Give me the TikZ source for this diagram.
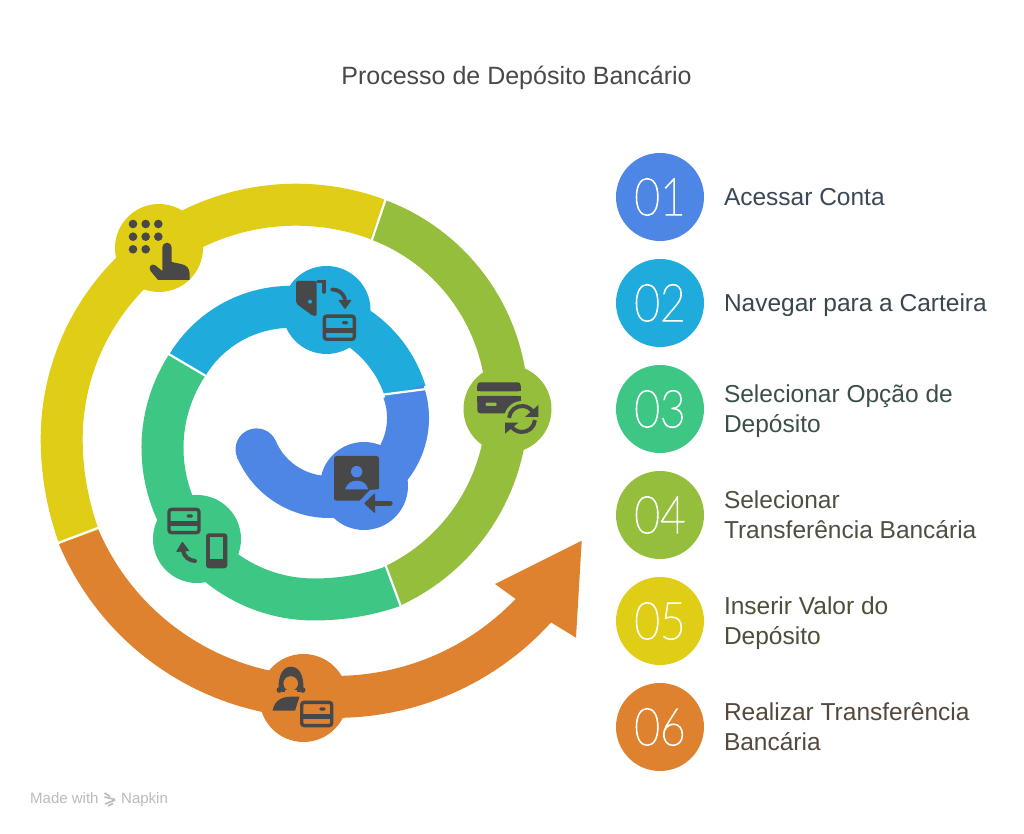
\documentclass[tikz,border=0pt]{standalone}
\usepackage{fontspec}
\setmainfont{Liberation Sans}
\newfontfamily\numfont[FakeStretch=0.85,FakeBold=2]{Lato Hairline}
\usetikzlibrary{positioning}

\definecolor{cblue}{HTML}{4E86E6}
\definecolor{ccyan}{HTML}{1FABDC}
\definecolor{cmint}{HTML}{3EC684}
\definecolor{colive}{HTML}{94BE3B}
\definecolor{cyell}{HTML}{E0CD15}
\definecolor{corange}{HTML}{DF8230}
\definecolor{cicon}{HTML}{484848}

\tikzset{
	band/.style = {line width = 42pt},
	sepline/.style = {draw = white, line width = 2.2pt},
	badge/.style = {circle, minimum size = 88pt, inner sep = 0pt, outer sep = 0pt},
	numcircle/.style = {circle, minimum size = 88pt, inner sep = 0pt, outer sep = 0pt, text = white, font = \numfont\fontsize{52}{52}\selectfont},
	legendtext/.style = {inner sep = 0pt, outer sep = 0pt, yshift = -2.5pt, align = left, font = \fontsize{24.5}{30}\selectfont, execute at begin node = \strut, execute at end node = \strut},
	legendtwo/.style = {legendtext, yshift = -2pt},
	iconfill/.style = {fill = cicon},
	iconline/.style = {draw = cicon, line width = 3.6pt, line cap = round},
	credit/.style = {font = \fontsize{15}{18}\selectfont, text = black!27, anchor = base west, inner sep = 0pt},
	cardicon/.pic = {
		\draw[cicon, line width = 3.4pt, rounded corners = 2.5pt] (-15,-11.6) rectangle (15,11.6);
		\fill[cicon] (-15,-5.3) rectangle (15,-0.4);
		\fill[cicon, rounded corners = 1.5pt] (2.5,3.4) rectangle (9,6.6);
	}
}

\begin{document}
\begin{tikzpicture}[x = 1pt, y = 1pt]
	\useasboundingbox (0,0) rectangle (1024,834);

	\node[font = \fontsize{25}{30}\selectfont, text = cicon] (title) at (516.5,756.5) {Processo de Depósito Bancário};

	% legend
	\node[numcircle, fill = cblue] (N1) at (660,637) {01};
	\node[numcircle, fill = ccyan, below = 18pt of N1] (N2) {02};
	\node[numcircle, fill = cmint, below = 18pt of N2] (N3) {03};
	\node[numcircle, fill = colive, below = 18pt of N3] (N4) {04};
	\node[numcircle, fill = cyell, below = 18pt of N4] (N5) {05};
	\node[numcircle, fill = corange, below = 18pt of N5] (N6) {06};

	\node[legendtext, text = {rgb,255:red,59;green,72;blue,88}, right = 20pt of N1] (L1) {Acessar Conta};
	\node[legendtext, text = {rgb,255:red,55;green,71;blue,79}, right = 20pt of N2] (L2) {Navegar para a Carteira};
	\node[legendtwo, text = {rgb,255:red,59;green,79;blue,72}, right = 20pt of N3] (L3) {Selecionar Opção de\\Depósito};
	\node[legendtwo, text = {rgb,255:red,76;green,80;blue,64}, right = 20pt of N4] (L4) {Selecionar\\Transferência Bancária};
	\node[legendtwo, text = {rgb,255:red,79;green,77;blue,58}, right = 20pt of N5] (L5) {Inserir Valor do\\Depósito};
	\node[legendtwo, text = {rgb,255:red,84;green,72;blue,60}, right = 20pt of N6] (L6) {Realizar Transferência\\Bancária};

	\node[credit] (made) at (30,30.7) {Made with};
	\node[credit] (napkin) at (121,30.7) {Napkin};

	% spiral, written in the pixel coordinates of the image
	\begin{scope}[yscale = -1, yshift = -834pt]
		\draw[black!27, line width = 1.6pt] (104.5,793) -- (110,796.5) (104.5,797) -- (115,799.5) (115,800) -- (105,804) (108,806) -- (113,803.5);

		\draw[band, corange] (320.7,434) ++(157.4:263pt) arc[start angle = 157.4, end angle = 88, radius = 263pt]
			arc[start angle = 91.2, end angle = 41, radius = 270pt];
		\fill[corange] (495,584) -- (581.7,540.7) -- (576,637.7) -- (552,623) -- (515.7,599) -- cycle;
		\draw[band, cyell] (296,439) ++(-69.6:234.3pt) arc[start angle = -69.6, end angle = -180, radius = 234.3pt]
			arc[start angle = -180, end angle = -200, radius = 285.5pt];
		\draw[band, colive] (308.3,405.9) ++(65:198.8pt) arc[start angle = 65, end angle = -69.6, radius = 198.8pt];
		\draw[band, cmint] (314,448) ++(213.2:151.5pt) arc[start angle = 213.2, end angle = 90, radius = 151.5pt]
			arc[start angle = 90, end angle = 70.8, radius = 244pt];
		\draw[band, ccyan] (290.4,427.2) ++(-17:120.3pt) arc[start angle = -17, end angle = -149.2, radius = 120.3pt];
		\fill[cblue] (329,418) ++(156.6:79pt) circle[radius = 21pt];
		\draw[band, cblue] (329,418) ++(156.6:79pt) arc[start angle = 156.6, end angle = -19.6, radius = 79pt];

		\draw[sepline] (384,394.5) -- (428,388.8);
		\draw[sepline] (168,353.6) -- (206.5,376.4);
		\draw[sepline] (385.3,564.5) -- (401.2,607.5);
		\draw[sepline] (385.8,199) -- (371.3,241.5);
		\draw[sepline] (57,543.5) -- (99,527.5);

		\node[badge, fill = cblue] (B1) at (364,486) {};
		\node[badge, fill = ccyan] (B2) at (326.5,310) {};
		\node[badge, fill = cmint] (B3) at (197,539) {};
		\node[badge, fill = colive] (B4) at (507.5,409) {};
		\node[badge, fill = cyell] (B5) at (159,248) {};
		\node[badge, fill = corange] (B6) at (303.5,698) {};

		% icon of badge 1
		\fill[iconfill, rounded corners = 2.5pt] (334,456) rectangle (379,500.7);
		\fill[cblue] (356.7,471.7) circle[radius = 5.7pt];
		\fill[cblue] (345,489.3) .. controls (347,483) and (352,480.7) .. (356.7,480.7) .. controls (361.5,480.7) and (366.5,483) .. (368.3,489.3) -- cycle;
		\fill[cblue] (358.5,502) -- (370,490) -- (381,489) -- (382,503) -- cycle;
		\fill[iconfill, rounded corners = 1pt] (364,503.3) -- (375,493) -- (375,513.5) -- cycle;
		\draw[iconline, line width = 5.4pt] (372,503.3) -- (390,503.3);

		% icon of badge 2
		\fill[iconfill, rounded corners = 2pt] (296,281) -- (316.7,281) -- (316.7,316) -- (313,316) -- (296,303.5) -- cycle;
		\fill[ccyan] (310,301.7) circle[radius = 2pt];
		\draw[iconline] (318,281.5) -- (323.8,281.5) -- (323.8,292);
		\draw[iconline, line width = 3.8pt] (332,289.5) .. controls (338,289.5) and (343,292.5) .. (345,299);
		\fill[iconfill, rounded corners = 0.8pt] (338.3,300) -- (351.7,300) -- (345,309.3) -- cycle;
		\pic at (339.3,327.7) {cardicon};

		% icon of badge 3
		\pic at (184,521) {cardicon};
		\fill[iconfill, rounded corners = 3pt] (206,533.3) rectangle (227.3,568.3);
		\fill[cmint] (210,536.7) rectangle (223.3,559.3);
		\draw[iconline, line width = 4pt] (195,561) .. controls (189,560.5) and (184.5,557) .. (183,551);
		\fill[iconfill, rounded corners = 0.8pt] (182.3,541.5) -- (189.5,551) -- (176,552) -- cycle;

		% icon of badge 4
		\fill[iconfill, rounded corners = 3pt] (477.3,382.3) rectangle (520.7,391.5);
		\fill[iconfill, rounded corners = 3pt] (477.3,396) rectangle (520.7,413.3);
		\fill[iconfill] (477.3,386) rectangle (520.7,391.5);
		\fill[iconfill] (477.3,396) rectangle (520.7,402);
		\fill[colive, rounded corners = 1pt] (485.5,402.6) rectangle (496.5,406);
		\fill[colive] (522,419) circle[radius = 18pt];
		\draw[iconline, line width = 4pt, line cap = butt] (522,419) ++(185:13pt) arc[start angle = 185, end angle = 325, radius = 13pt];
		\draw[iconline, line width = 4pt, line cap = butt] (522,419) ++(5:13pt) arc[start angle = 5, end angle = 145, radius = 13pt];
		\fill[iconfill] (538.3,405) -- (538.3,417) -- (525,417) -- cycle;
		\fill[iconfill] (505,422.7) -- (505,433.7) -- (518.3,422.7) -- cycle;

		% icon of badge 5
		\foreach \px/\py in {133/224, 145.7/224, 158.3/224, 133/236.7, 145.7/236.7, 158.3/236.7, 133/249.3, 145.7/249.3}
			\fill[iconfill] (\px,\py) circle[radius = 4.3pt];
		\fill[iconfill] (162.3,264) -- (162.3,247.4) arc[start angle = 180, end angle = 360, radius = 4.7pt] -- (171.7,262)
			-- (181,264) .. controls (186.5,265) and (189.5,268.5) .. (189.5,273) -- (189.5,280) -- (158,280) -- (150.5,271)
			.. controls (147.5,267) and (152,262.5) .. (155.5,265.5) -- (162.3,271) -- cycle;

		% icon of badge 6
		\fill[iconfill] (278.5,690) .. controls (278,675) and (283,666.7) .. (291,666.7) .. controls (299,666.7) and (304,675) .. (303.5,690) -- (300,692) -- (282,692) -- cycle;
		\fill[iconfill] (279.3,690) circle[radius = 2.8pt] (302.7,690) circle[radius = 2.8pt];
		\fill[corange] (290.7,683.5) circle[radius = 7.3pt];
		\fill[corange] (284.5,690) rectangle (297,694);
		\fill[iconfill] (272.7,710.7) .. controls (274,702) and (280,697) .. (290,696.7) -- (299.5,696.7) -- (295,710.7) -- cycle;
		\pic at (316.7,714) {cardicon};
	\end{scope}
\end{tikzpicture}
\end{document}
